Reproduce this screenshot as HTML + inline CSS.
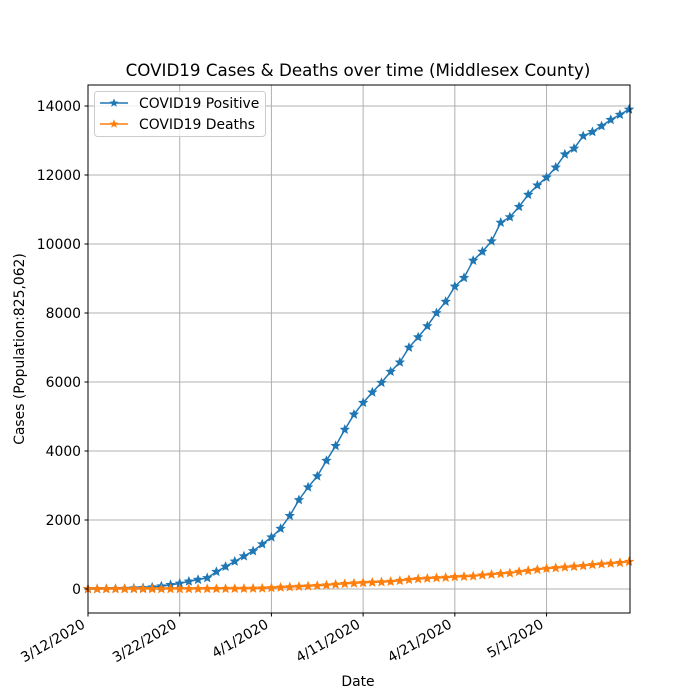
<!DOCTYPE html>
<html><head><meta charset="utf-8"><style>
body{margin:0;background:#fff;}
svg{display:block;font-family:"DejaVu Sans","Liberation Sans",sans-serif;}
</style></head><body>
<svg id="chart" width="700" height="700" viewBox="0 0 700 700"></svg>
<script>
const dateLabels = ["3/12/2020","3/22/2020","4/1/2020","4/11/2020","4/21/2020","5/1/2020"];
const dateTickDays = [0,10,20,30,40,50];
const yTicks = [0,2000,4000,6000,8000,10000,12000,14000];
const positive = [0,1,3,5,10,20,30,50,80,120,160,220,270,320,500,650,800,950,1100,1300,
1500,1750,2120,2580,2950,3270,3720,4150,4620,5060,5400,5700,5980,6300,6570,7000,7300,7620,8000,8330,
8770,9020,9520,9780,10080,10620,10780,11080,11430,11700,11930,12220,12600,12770,13130,13250,13420,13600,13750,13900];
const deaths = [0,0,0,0,0,0,1,1,1,2,2,3,4,5,6,8,10,12,15,20,
30,45,55,70,80,95,110,130,150,165,180,190,200,215,240,270,290,305,320,330,
350,360,370,400,420,440,460,500,530,560,590,610,630,650,670,700,720,740,760,790];

const NS="http://www.w3.org/2000/svg";
const svg=document.getElementById('chart');
const L=88,R=630,T=85,B=613;
const xMin=0,xMax=59.1,yMin=-696,yMax=14609;
const xs=d=>L+(d-xMin)/(xMax-xMin)*(R-L);
const ys=v=>B-(v-yMin)/(yMax-yMin)*(B-T);
function el(tag,attrs,parent){const e=document.createElementNS(NS,tag);for(const k in attrs)e.setAttribute(k,attrs[k]);(parent||svg).appendChild(e);return e;}

const grid=el('g',{});


dateTickDays.forEach(d=>{el('line',{x1:xs(d),x2:xs(d),y1:T,y2:B,stroke:'#b0b0b0','stroke-width':1},grid);});
yTicks.forEach(v=>{el('line',{x1:L,x2:R,y1:ys(v),y2:ys(v),stroke:'#b0b0b0','stroke-width':1},grid);});

function star(cx,cy,r){let p=[];for(let i=0;i<10;i++){const a=-Math.PI/2+i*Math.PI/5;const rr=i%2?r*0.45:r;p.push((cx+rr*Math.cos(a)).toFixed(2)+','+(cy+rr*Math.sin(a)).toFixed(2));}return p.join(' ');}
function series(vals,color,name){
  const g=el('g',{});
  
  
  el('polyline',{points:vals.map((v,i)=>xs(i)+','+ys(v)).join(' '),fill:'none',stroke:color,'stroke-width':1.5},g);
  vals.forEach((v,i)=>{const s=el('polygon',{points:star(xs(i),ys(v),4.4),fill:color,stroke:color,'stroke-width':0.8},g);
    
    });
}
series(positive,'#1f77b4','positive-series');
series(deaths,'#ff7f0e','deaths-series');

const frame=el('rect',{x:L,y:T,width:R-L,height:B-T,fill:'none',stroke:'#000','stroke-width':1});



yTicks.forEach(v=>{const y=ys(v);el('line',{x1:L-3.5,x2:L,y1:y,y2:y,stroke:'#000'});
  const t=el('text',{x:L-7,y:y+5,'text-anchor':'end','font-size':13.9});t.textContent=v;
  
  });
dateTickDays.forEach((d,i)=>{const x=xs(d);el('line',{x1:x,x2:x,y1:B,y2:B+3.5,stroke:'#000'});
  const t=el('text',{x:x-2,y:B+14,'text-anchor':'end','font-size':13.9,transform:`rotate(-30 ${x-2} ${B+14})`});t.textContent=dateLabels[i];
  
  });
</script>
<div style="position:absolute;left:0;top:0;width:700px;height:700px;pointer-events:none;">
<svg width="700" height="700" style="font-family:'DejaVu Sans','Liberation Sans',sans-serif;">
<text x="358" y="76" text-anchor="middle" font-size="16.7">COVID19 Cases &amp; Deaths over time (Middlesex County)</text>
<text x="358" y="686" text-anchor="middle" font-size="13.9">Date</text>
<text x="24" y="349" text-anchor="middle" font-size="13.9" transform="rotate(-90 24 349)">Cases (Population:825,062)</text>
<g>
<rect x="94.5" y="91.5" width="171" height="45" rx="3" fill="#fff" fill-opacity="0.8" stroke="#ccc"/>
<g>
<line x1="100" x2="128" y1="103" y2="103" stroke="#1f77b4" stroke-width="1.5"/>
<polygon points="114,98.4 115.3,101.5 118.4,101.6 116,103.7 116.8,106.8 114,105 111.2,106.8 112,103.7 109.6,101.6 112.7,101.5" fill="#1f77b4"/>
<text x="139" y="108" font-size="13.9">COVID19 Positive</text></g>
<g>
<line x1="100" x2="128" y1="124" y2="124" stroke="#ff7f0e" stroke-width="1.5"/>
<polygon points="114,119.4 115.3,122.5 118.4,122.6 116,124.7 116.8,127.8 114,126 111.2,127.8 112,124.7 109.6,122.6 112.7,122.5" fill="#ff7f0e"/>
<text x="139" y="129" font-size="13.9">COVID19 Deaths</text></g>
</g>
</svg></div>
</body></html>
